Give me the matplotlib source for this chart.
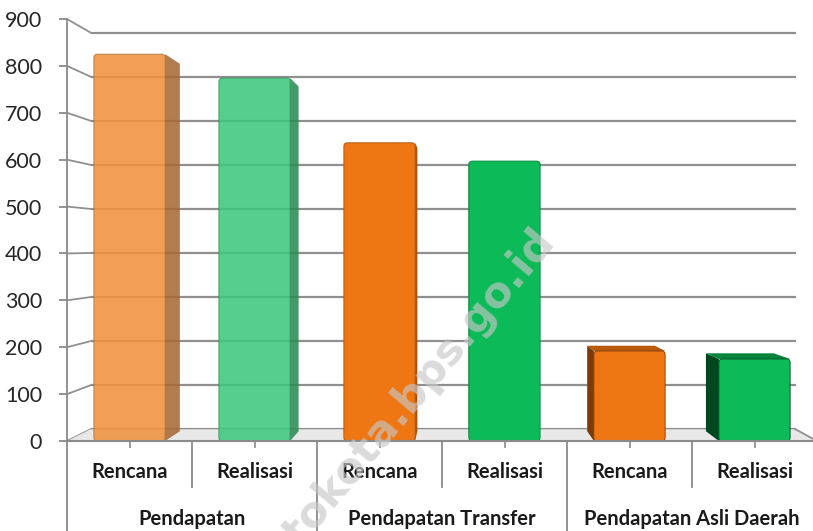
import matplotlib.pyplot as plt
import numpy as np
from matplotlib.patches import FancyBboxPatch

plt.rcParams["font.family"] = ["Lato", "DejaVu Sans"]

SUB_LABELS = ["Rencana", "Realisasi", "Rencana", "Realisasi", "Rencana", "Realisasi"]
GROUP_LABELS = ["Pendapatan", "Pendapatan Transfer", "Pendapatan Asli Daerah"]
VALUES = [825, 774, 636, 597, 192, 175]
Y_TICKS = list(range(0, 901, 100))

FRONT_COLORS = ["#F0923F", "#3DC97B", "#EE7613", "#0CBA58", "#EE7613", "#0CBA58"]
SIDE_COLORS = ["#A86A36", "#2C8B56", "#A9520C", "#07853D", "#7C3B06", "#00471F"]
TOP_COLORS = ["#F5A860", "#5BD592", "#C9610E", "#0A9A48", "#B8590C", "#08853D"]
ALPHAS = [0.88, 0.88, 1.0, 1.0, 1.0, 1.0]

GRID = "#8f8f8f"
AXIS = "#8a8a8a"
BAR_W = 0.57

# fake 3D: everything recedes toward one vanishing point (data coords)
VP = (2.644, 416)
WALL_DEPTH = 0.94
BAR_DEPTH = 0.95

# px per data unit, used to keep the rounded corners circular
X_PX, Y_PX = 125.0, 422 / 900


def recede(x, y, s):
    return VP[0] + s * (np.asarray(x, float) - VP[0]), VP[1] + s * (np.asarray(y, float) - VP[1])


fig = plt.figure(figsize=(8.13, 5.31), dpi=100)
ax = fig.add_axes([67 / 813, 90 / 531, 750 / 813, 422 / 531])
ax.set_xlim(-0.5, 5.5)
ax.set_ylim(0, 900)

# back wall gridlines + slanted connectors from the front axis
for v in Y_TICKS:
    xs, ys = recede([-0.5, 5.5], [v, v], WALL_DEPTH)
    ax.plot(xs, ys, color=GRID, lw=1.6, zorder=1, solid_capstyle="butt")
    bx, by = recede(-0.5, v, WALL_DEPTH)
    ax.plot([-0.5, bx], [v, by], color=GRID, lw=1.3, zorder=1, clip_on=False)

# floor
fx, fy = recede([5.5, -0.5], [0, 0], WALL_DEPTH)
ax.fill([-0.5, 5.5, fx[0], fx[1]], [0, 0, fy[0], fy[1]], color="#e8e8e8", zorder=1.2, lw=0)
ax.plot([5.5, fx[0]], [0, fy[0]], color=GRID, lw=1.3, zorder=1.3, clip_on=False)

# bars with side/top faces
for i, h in enumerate(VALUES):
    x0, x1 = i - BAR_W / 2, i + BAR_W / 2
    (bx0, bx1), (b0, bh) = recede([x0, x1], [0, h], BAR_DEPTH)
    kw = dict(alpha=ALPHAS[i], lw=0, zorder=3)
    if bx1 > x1:
        ax.fill([x1, x1, bx1, bx1], [0, h, bh, b0], color=SIDE_COLORS[i], **kw)
    if bx0 < x0:
        ax.fill([x0, x0, bx0, bx0], [0, h, bh, b0], color=SIDE_COLORS[i], **kw)
    if bh > h:
        ax.fill([x0, x1, bx1, bx0], [h, h, bh, bh], color=TOP_COLORS[i], **kw)
    r = 0.028
    face = FancyBboxPatch((x0 + r, r * X_PX / Y_PX), BAR_W - 2 * r, h - 2 * r * X_PX / Y_PX,
                          boxstyle=f"round,pad={r},rounding_size={r}",
                          mutation_aspect=X_PX / Y_PX, fc=FRONT_COLORS[i],
                          ec=SIDE_COLORS[i], lw=0.6, alpha=ALPHAS[i], zorder=3.5)
    ax.add_patch(face)

# axes styling
for side in ["top", "right"]:
    ax.spines[side].set_visible(False)
ax.spines["left"].set_color(AXIS)
ax.spines["left"].set_linewidth(1.3)
ax.spines["bottom"].set_color(AXIS)
ax.spines["bottom"].set_linewidth(1.5)
ax.spines["bottom"].set_zorder(4)

ax.set_yticks(Y_TICKS)
ax.tick_params(axis="y", length=6, width=1.3, color=AXIS, pad=12, labelsize=15.5, labelcolor="#262626")
ax.set_xticks(range(len(VALUES)))
ax.set_xticklabels([])
ax.tick_params(axis="x", length=5, width=1.2, color=AXIS)

# two-level category axis
xt = ax.get_xaxis_transform()
for x in [-0.5, 1.5, 3.5, 5.5]:
    ax.plot([x, x], [0, -0.215], color=AXIS, lw=1.3, transform=xt, clip_on=False)
for x in [0.5, 2.5, 4.5]:
    ax.plot([x, x], [0, -0.109], color=AXIS, lw=1.3, transform=xt, clip_on=False)
for i, lab in enumerate(SUB_LABELS):
    ax.text(i, -0.074, lab, transform=xt, ha="center", va="center",
            fontsize=14.5, fontweight="bold", color="#1a1a1a")
for g, lab in enumerate(GROUP_LABELS):
    ax.text(2 * g + 0.5, -0.186, lab, transform=xt, ha="center", va="center",
            fontsize=14.5, fontweight="bold", color="#1a1a1a")

# watermark
fig.text(557 / 813, 1 - 243 / 531, "tokota.bps.go.id", rotation=50, rotation_mode="anchor",
         ha="right", va="baseline", fontsize=31, fontweight="bold", color="#c8c8c8",
         alpha=0.65, family="DejaVu Sans", zorder=10)

fig.savefig("out.png", dpi=100)
